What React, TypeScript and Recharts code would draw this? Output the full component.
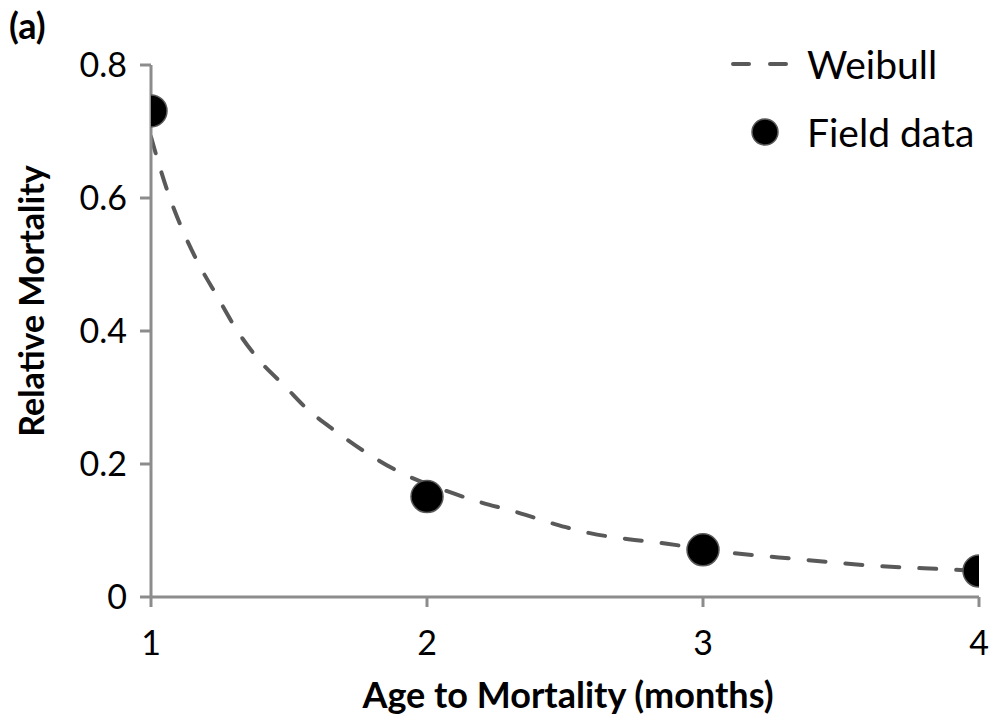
import React from 'react';
import { ComposedChart, Line, Scatter, XAxis, YAxis } from 'recharts';

const fieldAges = [1, 2, 3, 4];
const fieldMortality = [0.731, 0.151, 0.071, 0.039];

const weibullAges = [1.0, 1.02, 1.06, 1.11, 1.17, 1.24, 1.31, 1.39, 1.49, 1.56, 1.67, 1.78, 1.9, 2.06, 2.19, 2.33, 2.46, 2.59, 2.73, 2.87, 3.07, 3.34, 3.62, 3.91, 4.0];
const weibullMortality = [0.692, 0.663, 0.61, 0.556, 0.503, 0.452, 0.402, 0.357, 0.315, 0.285, 0.249, 0.217, 0.188, 0.161, 0.143, 0.127, 0.11, 0.096, 0.087, 0.08, 0.068, 0.057, 0.047, 0.041, 0.039];

const xTicks = [1, 2, 3, 4];
const yTicks = [0, 0.2, 0.4, 0.6, 0.8];

const fieldData = fieldAges.map((x, i) => ({ x, y: fieldMortality[i] }));
const weibullData = weibullAges.map((x, i) => ({ x, y: weibullMortality[i] }));

const FONT = 'Lato, "Open Sans", "Noto Sans", sans-serif';
const AXIS = '#8c8c8c';
const LINE = '#595959';

const Dot = (props: any) => (
  <circle cx={props.cx} cy={props.cy} r={16} fill="#000" stroke="#595959" strokeWidth={1.5} />
);

const YTitle = (props: any) => {
  const vb = props.viewBox || {};
  const x = vb.x + 22;
  const y = vb.y + vb.height / 2 - 30;
  return (
    <text x={x} y={y} transform={`rotate(-90, ${x}, ${y})`} textAnchor="middle" dominantBaseline="central"
      style={{ fontFamily: FONT, fontSize: 34, fontWeight: 700 }} fill="#000">
      Relative Mortality
    </text>
  );
};

const XTitle = (props: any) => {
  const vb = props.viewBox || {};
  const x = vb.x + vb.width / 2 + 3;
  const y = 700;
  return (
    <text x={x} y={y} textAnchor="middle" style={{ fontFamily: FONT, fontSize: 36, fontWeight: 700 }} fill="#000">
      Age to Mortality (months)
    </text>
  );
};

export default function App() {
  return (
    <div style={{ position: 'relative', width: 990, height: 712 }}>
      <div style={{ position: 'absolute', left: 1, top: -5, fontFamily: FONT, fontSize: 36, fontWeight: 700, lineHeight: '44px' }}>(a)</div>
      <div style={{ position: 'absolute', left: 718, top: 34, fontFamily: FONT, fontSize: 39, color: '#000', lineHeight: '44px', zIndex: 2 }}>
        <div style={{ display: 'flex', alignItems: 'center', height: 44 }}>
          <svg width={81} height={20}>
            <line x1={7} y1={10} x2={60} y2={10} stroke={LINE} strokeWidth={4} strokeDasharray="16 21" strokeLinecap="round" />
          </svg>
          <span>Weibull</span>
        </div>
        <div style={{ display: 'flex', alignItems: 'center', height: 44, marginTop: 24 }}>
          <svg width={81} height={32}>
            <circle cx={39} cy={16} r={13} fill="#000" stroke="#595959" strokeWidth={1.5} />
          </svg>
          <span>Field data</span>
        </div>
      </div>
      <ComposedChart width={990} height={712} margin={{ top: 57, right: 19, bottom: 63, left: 0 }}>
        <XAxis
          type="number"
          dataKey="x"
          domain={[1, 4]}
          ticks={xTicks}
          allowDataOverflow
          stroke={AXIS}
          strokeWidth={3}
          tickSize={10}
          tickMargin={24}
          height={60}
          tick={{ fill: '#000', fontSize: 34, fontFamily: FONT }}
          tickLine={{ stroke: AXIS, strokeWidth: 3 }}
          label={<XTitle />}
        />
        <YAxis
          type="number"
          dataKey="y"
          domain={[0, 0.8]}
          ticks={yTicks}
          allowDataOverflow
          stroke={AXIS}
          strokeWidth={3}
          tickSize={11}
          tickMargin={13}
          width={143}
          tick={{ fill: '#000', fontSize: 34, fontFamily: FONT }}
          tickLine={{ stroke: AXIS, strokeWidth: 3 }}
          label={<YTitle />}
        />
        <Line
          data={weibullData}
          dataKey="y"
          type="monotone"
          stroke={LINE}
          strokeWidth={4}
          strokeDasharray="17 20"
          strokeLinecap="round"
          dot={false}
          activeDot={false}
          isAnimationActive={false}
          name="Weibull"
        />
        <Scatter
          data={fieldData}
          dataKey="y"
          shape={<Dot />}
          isAnimationActive={false}
          name="Field data"
        />
      </ComposedChart>
    </div>
  );
}
